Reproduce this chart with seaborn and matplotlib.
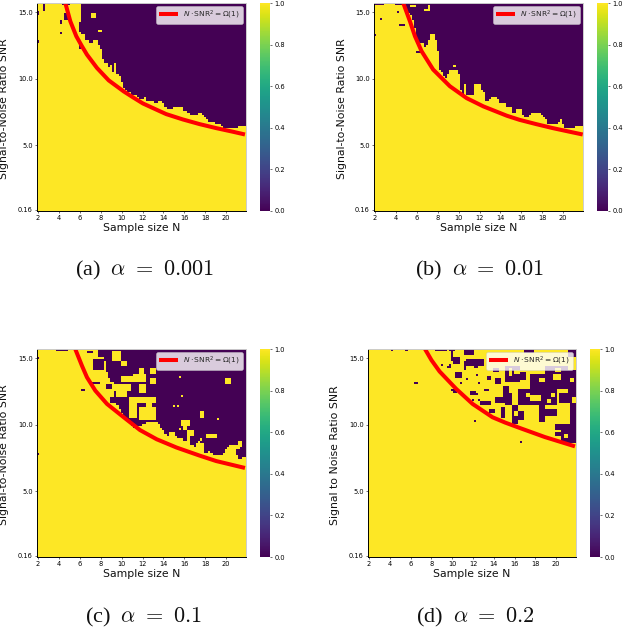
import numpy as np
import matplotlib
matplotlib.use("Agg")
import matplotlib.pyplot as plt
import seaborn as sns

sns.set_theme(style="white")
plt.rcParams['mathtext.fontset'] = 'cm'
plt.rcParams['font.family'] = ['DejaVu Sans']

N_LABELS = ['2','4','6','8','10','12','14','16','18','20']
SNR_LABELS = ['15.0','10.0','5.0','0.16']

# first yellow row (from the top) in each of the 100 columns
a_edge = [0]*20 + [10,15,15,18,18,19,19,18,18,20, 22,27,29,29,31,30,33,29,34,35,
                   38,41,42,43,43,44,44,44,45,46, 46,45,47,47,47,47,48,48,47,47,
                   48,50,51,51,51,50,50,50,50,50, 52,52,53,54,54,54,54,53,53,54,
                   55,56,57,57,57,58,58,58,59,60, 60,60,60,60,60,60,59,59,59,59]
b_edge = [0]*15 + [3,5,6,8,12, 17,19,19,19,21,20,18,15,15,18, 23,32,33,35,36,34,33,33,33,32,
                   34,42,44,39,44,44,44,44,39,39, 39,42,43,47,47,46,45,45,45,46,
                   48,48,48,50,50,50,53,53,51,51, 51,54,55,55,54,53,53,53,53,53,
                   54,55,56,58,58,58,58,58,57,56, 58,60,60,60,60,60,59,59,59,59]
c_edge = [0]*29 + [4, 4,4,6,11,14,16,16,23,27,29, 31,33,33,34,36,37,38,38,37,37,
                   36,36,35,35,35,35,35,35,36,38, 39,41,42,40,40,40,42,43,43,43,
                   44,44,42,46,46,47,45,44,45,48, 50,50,49,50,51,51,51,51,51,50,
                   48,47,47,47,46,51,53,53,52,52]
d_edge = [0]*100

# cell blocks (col0, col1, row0, row1) that differ from the edge rule
a_dark = [(3,3,0,3),(0,0,4,5),(0,0,18,18),(12,15,0,0),(16,16,1,2),(13,15,5,7),(11,11,8,9),
          (11,11,14,14),(20,20,9,13),(20,20,20,21)]
a_yellow = [(26,27,5,6),(29,30,13,13),(16,20,0,8)]
b_dark = [(0,4,0,0),(10,13,0,0),(0,0,15,15),(3,3,7,7),(11,11,4,4),(12,14,10,10),(20,22,23,23)]
b_yellow = [(17,19,1,1),(24,26,3,3),(26,26,1,2),(38,38,30,30),(36,39,32,32)]
c_dark = [(0,0,4,4),(9,14,0,0),(27,31,5,9),(35,37,23,25),(48,52,26,27),(0,0,50,50),
          (26,29,16,16),(21,22,19,19),(30,30,23,23),(42,43,29,31),(40,42,25,26),(33,35,17,18),
          (24,26,1,1),(39,40,20,21),(36,37,12,12)]
c_yellow = [(36,39,1,5),(40,42,6,7),(37,44,17,19),(46,51,12,15),(54,56,9,11),(54,56,14,16),
            (40,45,13,15),(38,42,18,22),(44,56,23,25),(44,47,26,32),(49,56,28,33),
            (49,50,9,12),(49,51,17,20),(68,68,13,13),(90,92,14,16),(69,69,22,22),
            (65,65,27,27),(67,67,27,27),(52,54,25,27),(78,79,30,32),(86,86,33,33),
            (69,72,34,36),(70,71,37,38),(68,68,38,38),(72,74,39,41),(81,85,41,42),
            (78,78,43,43),(76,79,45,47),(92,96,46,47),(96,97,44,46)]
d_dark = [(11,11,0,0),(18,18,0,0),(22,23,16,16),(51,51,34,34),(73,73,44,44),(32,37,0,0),
          (40,40,0,5),(43,43,4,6),(38,39,8,8),(44,44,12,12),(40,42,19,19),(50,52,21,21),
          (55,58,25,25),(65,65,29,32),(39,41,0,0),(46,50,0,2),(47,55,5,7),(41,42,4,6),
          (35,35,7,7),(39,39,7,7),(46,46,6,9),(51,52,8,8),(42,44,11,13),(52,52,12,12),
          (47,47,14,14),(44,44,16,16),(41,42,20,20),(57,58,13,14),(61,63,14,16),(53,53,16,16),
          (49,51,20,21),(56,57,19,19),(61,67,23,25),(65,67,18,23),(54,58,25,26),(50,50,24,24),
          (53,53,24,24),(64,65,28,32),(66,72,8,15),(70,75,11,14),(78,85,12,19),(85,95,8,18),
          (96,99,10,22),(66,68,21,26),(72,90,19,26),(92,97,21,25),(69,71,27,35),(72,74,30,33),
          (82,84,27,34),(84,90,29,31),(90,99,36,38),(93,99,39,44),(90,92,40,41),(97,99,26,35),
          (96,99,0,3),(75,79,0,1),(60,62,9,10),(58,60,29,30)]
d_yellow = [(78,82,22,24),(86,87,24,25),(75,76,17,18),(89,92,12,14),(70,72,10,11),(82,84,14,15),
            (90,92,9,10),(76,77,21,22),(88,89,21,22),(97,98,14,15),(70,71,30,31),(94,95,41,42),
            (68,68,9,12)]

# red curve
a_curve_n = [4.61,5.09,5.66,6.2,6.68,7.64,8.76,10.2,11.1,12.03,13.0,14.26,15.85,17.45,19.04,20.63,21.8]
a_curve_s = [15.68,14.31,13.19,12.44,11.81,10.81,9.88,9.05,8.6,8.15,7.8,7.35,6.95,6.6,6.3,6.03,5.82]
b_curve_n = [4.7,5.34,5.82,6.46,7.56,9.16,10.76,12.36,14.6,15.82,17.41,19.0,20.6,21.87]
b_curve_s = [15.68,14.31,13.19,12.06,10.69,9.44,8.55,7.93,7.23,6.92,6.6,6.3,6.03,5.82]
c_curve_n = [5.56,6.2,6.68,7.48,8.6,10.2,11.76,13.36,15.26,17.45,19.04,20.63,21.8]
c_curve_s = [15.68,14.43,13.56,12.56,11.56,10.56,9.6,8.91,8.29,7.69,7.28,6.98,6.76]
d_curve_n = [7.38,8.0,8.78,10.38,11.96,13.88,15.1,16.7,18.9,21.8]
d_curve_s = [15.68,14.85,14.0,12.69,11.56,10.56,10.16,9.7,9.08,8.38]

CAPTIONS = [r'(a)  $\alpha\ =\ 0.001$', r'(b)  $\alpha\ =\ 0.01$', r'(c)  $\alpha\ =\ 0.1$', r'(d)  $\alpha\ =\ 0.2$']
YLABELS = ['Signal-to-Noise Ratio SNR','Signal-to-Noise Ratio SNR','Signal-to-Noise Ratio SNR','Signal to Noise Ratio SNR']
LEGEND = r'$N \cdot \mathrm{SNR}^2 = \Omega(1)$'

W, H = 626, 630
fig = plt.figure(figsize=(W/100, H/100), dpi=100)

def box(x0, x1, y0, y1):
    return [x0/W, 1-y1/H, (x1-x0)/W, (y1-y0)/H]

def build(edge, dark, yellow):
    g = np.zeros((100, 100))
    for c, e in enumerate(edge):
        g[e:, c] = 1
    for c0, c1, r0, r1 in dark:
        g[r0:r1+1, c0:c1+1] = 0
    for c0, c1, r0, r1 in yellow:
        g[r0:r1+1, c0:c1+1] = 1
    return g

panels = [
    (a_edge, a_dark, a_yellow, a_curve_n, a_curve_s, (37,246,3,211), (260,270), -0.135, (144,270)),
    (b_edge, b_dark, b_yellow, b_curve_n, b_curve_s, (374,583,3,211), (597,608), -0.129, (480,270)),
    (c_edge, c_dark, c_yellow, c_curve_n, c_curve_s, (37,246,349,557), (260,270), -0.135, (143,617)),
    (d_edge, d_dark, d_yellow, d_curve_n, d_curve_s, (368,576,349,557), (590,600), -0.134, (475,617)),
]

for i, (edge, dark, yellow, cn, cs, b, cb, ylx, cap) in enumerate(panels):
    ax = fig.add_axes(box(*b))
    cax = fig.add_axes(box(cb[0], cb[1], b[2], b[3]))
    grid = build(edge, dark, yellow)
    sns.heatmap(grid, ax=ax, cbar_ax=cax, cmap='viridis', vmin=0, vmax=1,
                xticklabels=False, yticklabels=False, rasterized=True)
    ax.set_xticks(np.arange(0, 100, 10) + 0.5)
    ax.set_xticklabels(N_LABELS, rotation=0, fontsize=4.8)
    ax.set_yticks([4.5, 36.5, 68.5, 99.5])
    ax.set_yticklabels(SNR_LABELS, rotation=0, fontsize=4.8)
    ax.tick_params(length=1.5, width=0.4, pad=1.5, bottom=True, left=True, colors='black')
    ax.set_xlabel('Sample size N', fontsize=7.8, labelpad=1.5, color='#111111')
    ax.set_ylabel(YLABELS[i], fontsize=7.8, color='#111111')
    ax.yaxis.set_label_coords(ylx, 0.49)
    xs = (np.array(cn) - 2) * 5 + 0.5
    ys = 99.5 - (np.array(cs) - 0.16) / 0.156
    ax.plot(xs, ys, color='red', lw=2.9, label=LEGEND, solid_capstyle='butt')
    leg = ax.legend(loc='upper right', fontsize=5.4, frameon=True, framealpha=0.8,
                    bbox_to_anchor=(0.985, 0.985), borderaxespad=0, handlelength=2.6,
                    borderpad=0.35, handletextpad=0.7)
    for t in leg.get_texts():
        t.set_math_fontfamily('dejavusans')
    leg.get_frame().set_edgecolor('#cccccc')
    leg.get_frame().set_linewidth(0.4)
    for s, sp in ax.spines.items():
        sp.set_visible(True)
        sp.set_linewidth(0.7)
        sp.set_color('black' if s in ('left', 'bottom') else '#cccccc')
    cax.tick_params(labelsize=4.8, length=1.5, width=0.4, pad=1.5, right=True, colors='black')
    cax.set_yticks([0, .2, .4, .6, .8, 1.0])
    fig.text(cap[0]/W, 1-cap[1]/H, CAPTIONS[i], ha='center', va='center', fontsize=16,
             family='Liberation Serif', color='#111111')

fig.savefig('out.png', dpi=100)
